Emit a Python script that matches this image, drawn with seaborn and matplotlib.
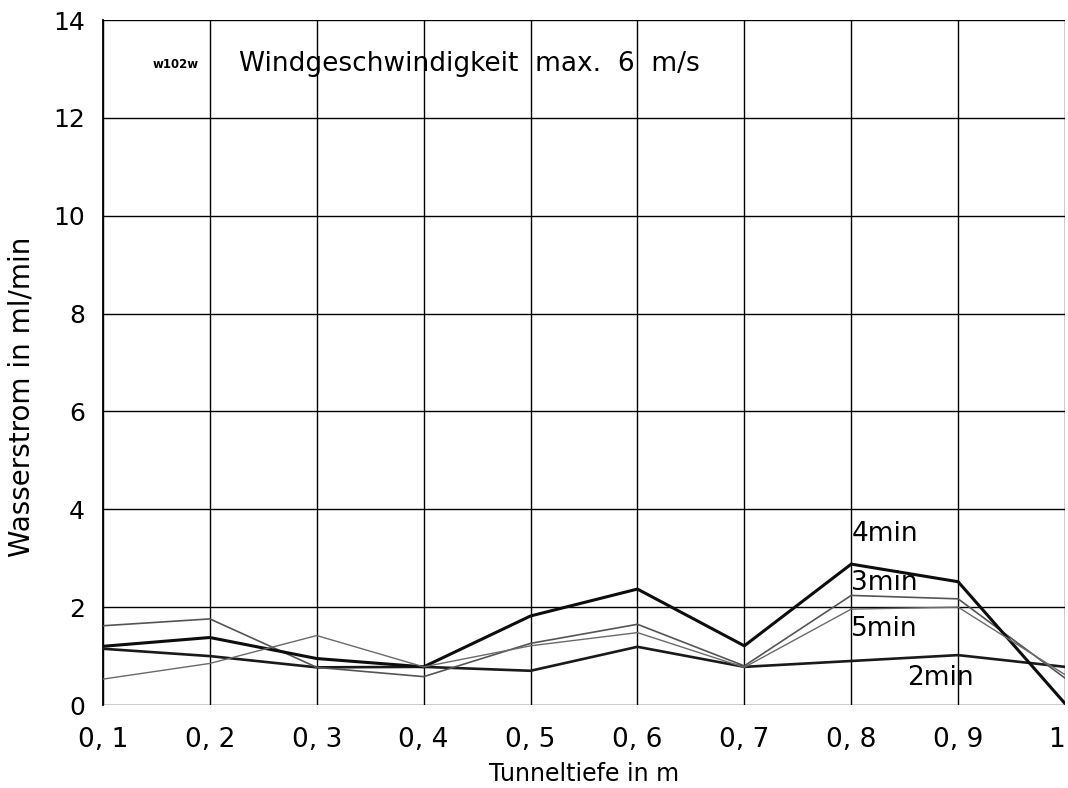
import matplotlib
matplotlib.use("Agg")
import matplotlib.pyplot as plt
import seaborn as sns
import pandas as pd

depth = [0.1, 0.2, 0.3, 0.4, 0.5, 0.6, 0.7, 0.8, 0.9, 1.0]
s2min = [1.15, 1.00, 0.77, 0.78, 0.70, 1.19, 0.78, 0.90, 1.02, 0.78]
s3min = [1.62, 1.76, 0.77, 0.58, 1.26, 1.65, 0.80, 2.24, 2.17, 0.55]
s4min = [1.20, 1.38, 0.95, 0.78, 1.82, 2.37, 1.21, 2.88, 2.52, 0.03]
s5min = [0.53, 0.85, 1.42, 0.78, 1.21, 1.48, 0.77, 1.96, 2.00, 0.62]
series_names = ["2min", "3min", "4min", "5min"]
xtick_labels = ["0, 1", "0, 2", "0, 3", "0, 4", "0, 5", "0, 6", "0, 7", "0, 8", "0, 9", "1"]
yticks = [0, 2, 4, 6, 8, 10, 12, 14]

rows = []
for name, vals in zip(series_names, [s2min, s3min, s4min, s5min]):
    for x, v in zip(depth, vals):
        rows.append({"Tiefe": x, "Wert": v, "Serie": name})
df = pd.DataFrame(rows)

sns.set_style("white")
plt.rcParams["font.family"] = ["DejaVu Sans"]
plt.rcParams["text.color"] = "black"
plt.rcParams["axes.labelcolor"] = "black"
plt.rcParams["xtick.color"] = "black"
plt.rcParams["ytick.color"] = "black"

fig = plt.figure(figsize=(10.68, 7.88), dpi=100)
ax = fig.add_axes([0.0964, 0.1053, 0.9008, 0.8693])

palette = {"2min": "#1a1a1a", "3min": "#555555", "4min": "#0d0d0d", "5min": "#6a6a6a"}
sizes = {"2min": 1.9, "3min": 1.2, "4min": 2.2, "5min": 1.0}
sns.lineplot(data=df, x="Tiefe", y="Wert", hue="Serie", size="Serie",
             palette=palette, sizes=sizes, legend=False, ax=ax, zorder=3)

ax.set_xlim(0.1, 1.0)
ax.set_ylim(0, 14)
ax.set_xticks(depth)
ax.set_xticklabels(xtick_labels, fontsize=19)
ax.get_xticklabels()[-1].set_horizontalalignment("right")
ax.set_yticks(yticks)
ax.set_yticklabels([str(v) for v in yticks], fontsize=18)
ax.grid(True, color="black", linewidth=1.0, zorder=1)
ax.tick_params(axis="y", direction="out", length=9, width=1.0, color="black", pad=4)
ax.tick_params(axis="x", direction="out", length=8, width=1.0, color="black", pad=8)
for sp in ax.spines.values():
    sp.set_visible(False)
ax.spines["left"].set_visible(True)
ax.spines["left"].set_color("black")
ax.spines["left"].set_linewidth(1.3)

ax.set_xlabel("Tunneltiefe in m", fontsize=17)
ax.xaxis.set_label_coords(0.50, -0.083)
ax.set_ylabel("Wasserstrom in ml/min", fontsize=20)
ax.yaxis.set_label_coords(-0.07, 0.45)

ax.text(0.146, 13.1, "w102w", fontsize=8.5, fontweight="bold", va="center", ha="left")
ax.text(0.227, 13.1, "Windgeschwindigkeit  max.  6  m/s", fontsize=19, va="center", ha="left")

ax.text(0.8, 3.5, "4min", fontsize=19, va="center", ha="left")
ax.text(0.8, 2.5, "3min", fontsize=19, va="center", ha="left")
ax.text(0.8, 1.55, "5min", fontsize=19, va="center", ha="left")
ax.text(0.852, 0.55, "2min", fontsize=19, va="center", ha="left")

fig.savefig("out.png", dpi=100)
